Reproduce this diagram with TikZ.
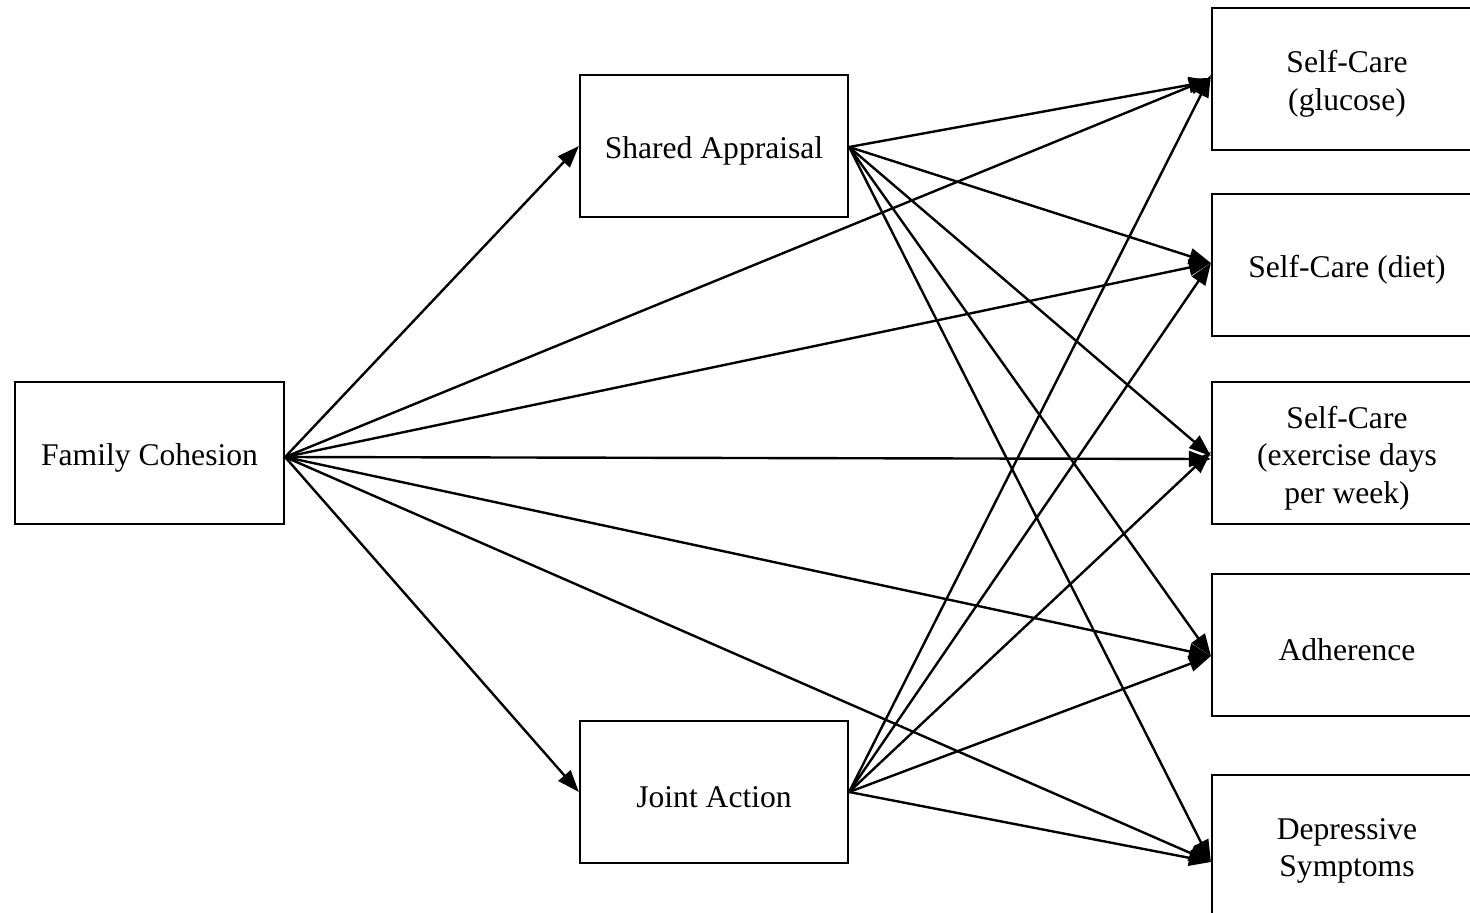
\documentclass[tikz,border=0pt]{standalone}
\usepackage{fontspec}
\setmainfont{Liberation Serif}
\usetikzlibrary{arrows.meta}
\begin{document}
\begin{tikzpicture}[x=1pt,y=-1pt,
  varbox/.style={draw,line width=2.2pt,minimum width=268pt,minimum height=142pt,inner sep=0pt},
  vartext/.style={font=\fontsize{31.6}{37.5}\selectfont,align=center,inner sep=0pt,yshift=-5pt},
  path/.style={line width=2.4pt,-{Triangle[length=22pt,width=16pt]}}]
\useasboundingbox (0,0) rectangle (1470,913);
\begin{scope}
\clip (0,0) rectangle (1470,913);
% predictor and mediators
\node[varbox,minimum width=269pt] (fc) at (149.5,453) {};
\node[varbox] (sa) at (714,146) {};
\node[varbox] (ja) at (714,792) {};
% outcomes
\node[varbox,minimum width=270pt] (glu) at (1347,79) {};
\node[varbox,minimum width=270pt] (diet) at (1347,265) {};
\node[varbox,minimum width=270pt] (ex) at (1347,453) {};
\node[varbox,minimum width=270pt] (adh) at (1347,645) {};
\node[varbox,minimum width=270pt] (dep) at (1347,846) {};
\end{scope}
% box labels
\node[vartext] (fct) at (fc.center) {Family Cohesion};
\node[vartext] (sat) at (sa.center) {Shared Appraisal};
\node[vartext] (jat) at (ja.center) {Joint Action};
\node[vartext] (glut) at (glu.center) {Self-Care\\(glucose)};
\node[vartext] (diett) at (diet.center) {Self-Care (diet)};
\node[vartext] (ext) at (ex.center) {Self-Care\\(exercise days\\per week)};
\node[vartext] (adht) at (adh.center) {Adherence};
\node[vartext] (dept) at (dep.center) {Depressive\\Symptoms};
% arrow end points on the outcome boxes
\coordinate (gluin) at ([yshift=1pt]glu.west);
\coordinate (dietin) at ([yshift=2pt]diet.west);
\coordinate (exin) at ([yshift=-3pt]ex.west);
\coordinate (adhin) at ([yshift=-11pt]adh.west);
\coordinate (depin) at ([yshift=-16pt]dep.west);
\coordinate (fcout) at ([yshift=-4pt]fc.east);
\coordinate (saout) at ([yshift=-1pt]sa.east);
% family cohesion paths
\draw[path] (fcout) -- (sa.west);
\draw[path] (fcout) -- (ja.west);
\draw[path] (fcout) -- (gluin);
\draw[path] (fcout) -- (dietin);
\draw[path] (fcout) -- ([yshift=-3pt]exin);
\draw[path] (fcout) -- (adhin);
\draw[path] (fcout) -- (depin);
% shared appraisal paths
\draw[path] (saout) -- ([yshift=-3pt]gluin);
\draw[path] (saout) -- (dietin);
\draw[path] (saout) -- (exin);
\draw[path] (saout) -- (adhin);
\draw[path] (saout) -- (depin);
% joint action paths
\draw[path] (ja.east) -- ([yshift=3pt]gluin);
\draw[path] (ja.east) -- (dietin);
\draw[path] (ja.east) -- ([yshift=4pt]exin);
\draw[path] (ja.east) -- (adhin);
\draw[path] (ja.east) -- (depin);
\end{tikzpicture}
\end{document}
